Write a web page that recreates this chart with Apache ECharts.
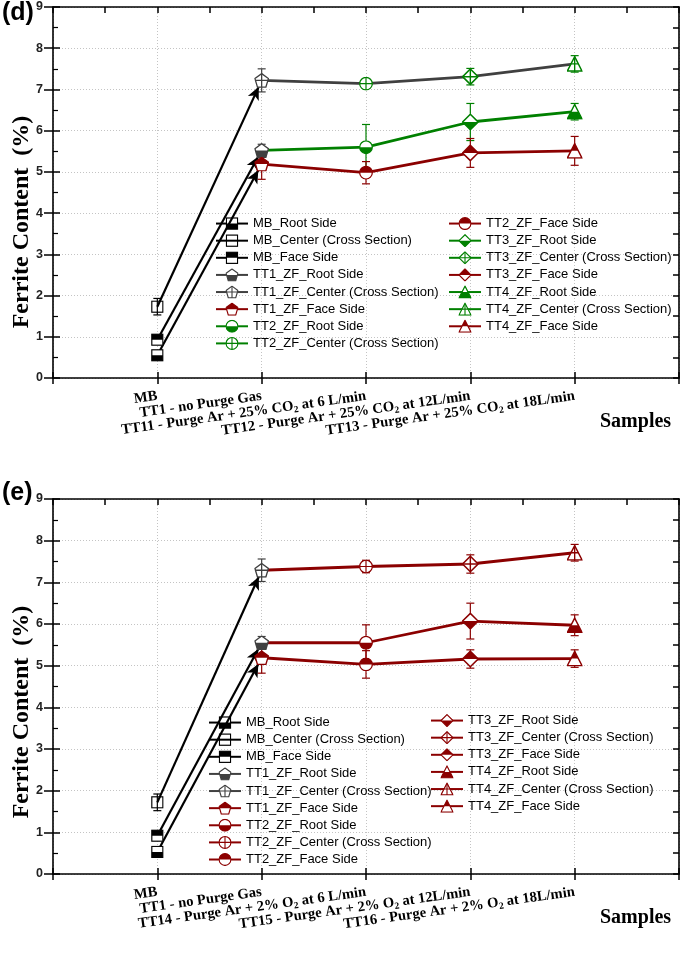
<!DOCTYPE html>
<html><head><meta charset="utf-8">
<script src="https://cdn.jsdelivr.net/npm/echarts@6/dist/echarts.min.js"></script>
<style>html,body{margin:0;padding:0;background:#fff}#c{width:685px;height:954px}</style>
</head><body><div id="c"></div>
<script>
// ---------------- DATA ----------------
const categoriesD = ['MB', 'TT1 - no Purge Gas', 'TT11 - Purge Ar + 25% CO{s|2} at 6 L/min', 'TT12 - Purge Ar + 25% CO{s|2} at 12L/min', 'TT13 - Purge Ar + 25% CO{s|2} at 18L/min'];
const categoriesE = ['MB', 'TT1 - no Purge Gas', 'TT14 - Purge Ar + 2% O{s|2} at 6 L/min', 'TT15 - Purge Ar + 2% O{s|2} at 12L/min', 'TT16 - Purge Ar + 2% O{s|2} at 18L/min'];
const sampleLabels = ['MB', 'TT1_ZF', 'TT2_ZF', 'TT3_ZF', 'TT4_ZF'];
const sideLabels = ['Root Side', 'Center (Cross Section)', 'Face Side'];
const yMin = 0, yMax = 9, yStep = 1;

// panel (d): MB values ordered Root, Center, Face
const mbD = [0.55, 1.73, 0.93];
const mbErrD = [0.10, 0.20, 0.10];
// TT1..TT4 values (at TT1, TT11, TT12, TT13)
const rootD = [5.52, 5.60, 6.21, 6.46];
const rootErrD = [0.15, 0.55, 0.45, 0.20];
const centerD = [7.22, 7.14, 7.31, 7.62];
const centerErrD = [0.28, 0.08, 0.20, 0.20];
const faceD = [5.19, 4.98, 5.46, 5.51];
const faceErrD = [0.37, 0.27, 0.35, 0.35];

// panel (e)
const mbE = [0.53, 1.72, 0.92];
const mbErrE = [0.10, 0.20, 0.10];
const rootE = [5.55, 5.55, 6.07, 5.97];
const rootErrE = [0.15, 0.43, 0.43, 0.25];
const centerE = [7.29, 7.38, 7.44, 7.71];
const centerErrE = [0.27, 0.15, 0.22, 0.20];
const faceE = [5.19, 5.03, 5.16, 5.17];
const faceErrE = [0.37, 0.33, 0.22, 0.21];

// ---------------- STYLE ----------------
const BLACK = '#000000', GRAY = '#404040', GREEN = '#008000', RED = '#8b0000';
const shapes = ['square', 'pentagon', 'circle', 'diamond', 'triangle'];
const symSizes = { square: 13, pentagon: 15, circle: 14, diamond: 17, triangle: 16 };

function svgMarker(shape, mode, color) {
  const geo = {
    square: '<rect x="1.5" y="1.5" width="17" height="17"/>',
    pentagon: '<polygon points="10,1 19,7.6 15.6,19 4.4,19 1,7.6"/>',
    circle: '<circle cx="10" cy="10" r="9"/>',
    diamond: '<polygon points="10,0.9 19.1,10 10,19.1 0.9,10"/>',
    triangle: '<polygon points="10,1 19.2,19 0.8,19"/>'
  }[shape];
  let body = '<defs><clipPath id="s">' + geo + '</clipPath><clipPath id="h"><rect x="-1" y="' + (mode === 'top' ? -1 : 10) + '" width="22" height="11"/></clipPath></defs>';
  if (mode !== 'open') body += '<g fill="#ffffff">' + geo + '</g>';
  if (mode === 'top' || mode === 'bottom') body += '<g clip-path="url(#h)" fill="' + color + '">' + geo + '</g>';
  if (mode === 'cross') body += '<path clip-path="url(#s)" d="M10 0V20M0 10H20" stroke="' + color + '" stroke-width="1.7" fill="none"/>';
  body += '<g fill="none" stroke="' + color + '" stroke-width="1.8">' + geo + '</g>';
  const svg = '<svg xmlns="http://www.w3.org/2000/svg" width="60" height="60" viewBox="0 0 20 20">' + body + '</svg>';
  return 'image://data:image/svg+xml;charset=utf-8,' + encodeURIComponent(svg);
}

const panels = [
  {
    key: 'd', cats: categoriesD, mb: mbD, mbErr: mbErrD,
    vals: [rootD, centerD, faceD], errs: [rootErrD, centerErrD, faceErrD],
    colors: [[BLACK, BLACK, BLACK], [GRAY, GRAY, RED], [GREEN, GREEN, RED], [GREEN, GREEN, RED], [GREEN, GREEN, RED]],
    lineColors: [GREEN, GRAY, RED],
    grid: { left: 53, top: 7, width: 626, height: 371 },
    legendSplit: 8, legend1: { left: 215, top: 217 }, legend2: { left: 448, top: 217 },
    tag: '(d)', tagTop: 1, samplesTop: 412, titleY: 222
  },
  {
    key: 'e', cats: categoriesE, mb: mbE, mbErr: mbErrE,
    vals: [rootE, centerE, faceE], errs: [rootErrE, centerErrE, faceErrE],
    colors: [[BLACK, BLACK, BLACK], [GRAY, GRAY, RED], [RED, RED, RED], [RED, RED, RED], [RED, RED, RED]],
    lineColors: [RED, RED, RED],
    grid: { left: 53, top: 499, width: 626, height: 375 },
    legendSplit: 9, legend1: { left: 208, top: 716 }, legend2: { left: 430, top: 714 },
    tag: '(e)', tagTop: 481, samplesTop: 908, titleY: 712
  }
];

const option = {
  animation: false,
  backgroundColor: '#ffffff',
  grid: [], xAxis: [], yAxis: [], series: [], legend: [], graphic: []
};

const lineAxis = { show: true, onZero: false, lineStyle: { color: '#000', width: 1.6 } };

panels.forEach((p, gi) => {
  option.grid.push(p.grid);
  const axisData = [' ', ...p.cats, '  '];
  const xb = gi * 3, yb = gi * 3;
  option.xAxis.push({
    type: 'category', gridIndex: gi, data: axisData, boundaryGap: false, position: 'bottom',
    axisLine: lineAxis,
    axisTick: { show: true, inside: false, length: 6, interval: 0, lineStyle: { color: '#000', width: 1.5 } },
    axisLabel: {
      interval: 0, rotate: 8, margin: 18, color: '#000', fontFamily: 'Liberation Serif',
      fontWeight: 'bold', fontSize: 14.6, lineHeight: 18,
      rich: { s: { fontSize: 9.5, lineHeight: 9, verticalAlign: 'bottom', fontWeight: 'bold', fontFamily: 'Liberation Serif', color: '#000' } }
    },
    splitLine: { show: true, interval: 0, lineStyle: { color: '#c4c4c4', type: [1, 2], width: 1 } }
  });
  option.xAxis.push({
    type: 'value', gridIndex: gi, min: 0, max: 6, interval: 0.5, position: 'top',
    axisLine: lineAxis, axisTick: { show: true, inside: true, length: 6, lineStyle: { color: '#000', width: 1.5 } },
    axisLabel: { show: false }, splitLine: { show: false }
  });
  option.xAxis.push({
    type: 'value', gridIndex: gi, min: 0, max: 6, interval: 1, position: 'bottom',
    axisLine: { show: false, onZero: false }, axisTick: { show: true, inside: true, length: 6, lineStyle: { color: '#000', width: 1.5 } },
    axisLabel: { show: false }, splitLine: { show: false }
  });
  option.yAxis.push({
    type: 'value', gridIndex: gi, min: yMin, max: yMax, interval: yStep, position: 'left',
    axisLine: lineAxis,
    axisTick: { show: true, inside: false, length: 9, lineStyle: { color: '#000', width: 1.5 } },
    axisLabel: { margin: 10, color: '#222', fontFamily: 'Liberation Sans', fontWeight: 'bold', fontSize: 12.5 },
    splitLine: { show: true, lineStyle: { color: '#c4c4c4', type: [1, 2], width: 1 } }
  });
  option.yAxis.push({
    type: 'value', gridIndex: gi, min: yMin, max: yMax, interval: 0.5, position: 'right',
    axisLine: lineAxis, axisTick: { show: true, inside: true, length: 6, lineStyle: { color: '#000', width: 1.5 } },
    axisLabel: { show: false }, splitLine: { show: false }
  });
  option.yAxis.push({
    type: 'value', gridIndex: gi, min: yMin, max: yMax, interval: yStep, position: 'left',
    axisLine: { show: false, onZero: false },
    axisTick: { show: true, inside: true, length: 7, lineStyle: { color: '#000', width: 1.5 } },
    minorTick: { show: true, splitNumber: 2, length: 5, lineStyle: { color: '#000', width: 1.2 } },
    axisLabel: { show: false }, splitLine: { show: false }
  });

  [0, 1, 2].forEach(s => {
    const ser = {
      type: 'line', name: p.key + '_line' + s, xAxisIndex: xb, yAxisIndex: yb, z: 2, silent: true,
      showSymbol: false, symbol: 'none',
      data: p.vals[s].map((v, i) => [p.cats[i + 1], v]),
      lineStyle: { color: p.lineColors[s], width: 2.8 }
    };
    if (s === 1) {
      ser.markLine = {
        silent: true, animation: false, symbol: ['none', 'arrow'], symbolSize: [9, 13],
        symbolOffset: [[0, 0], [0, 7]],
        label: { show: false }, emphasis: { disabled: true },
        lineStyle: { color: '#000', width: 2.2, type: 'solid' },
        data: [
          [{ coord: [p.cats[0], p.mb[1]] }, { coord: [p.cats[1], p.vals[1][0]] }],
          [{ coord: [p.cats[0], p.mb[2]] }, { coord: [p.cats[1], p.vals[0][0]] }],
          [{ coord: [p.cats[0], p.mb[0]] }, { coord: [p.cats[1], p.vals[2][0]] }]
        ]
      };
    }
    option.series.push(ser);
  });

  const errItems = [];
  const names = [];
  sampleLabels.forEach((smp, k) => {
    sideLabels.forEach((side, s) => {
      const v = k === 0 ? p.mb[s] : p.vals[s][k - 1];
      const e = k === 0 ? p.mbErr[s] : p.errs[s][k - 1];
      const color = p.colors[k][s];
      errItems.push({ value: [k + 1, v, e], itemStyle: { color: color } });
      const shape = shapes[k];
      const mode = (k === 0 && s === 1) ? 'open' : ['bottom', 'cross', 'top'][s];
      const nm = p.key + ':' + smp + '_' + side;
      names.push(nm);
      option.series.push({
        type: 'line', name: nm, xAxisIndex: xb, yAxisIndex: yb, z: 10, silent: true,
        data: [[p.cats[k], v]],
        symbol: svgMarker(shape, mode, color), symbolSize: symSizes[shape], showSymbol: true,
        lineStyle: { color: color, width: 1.5 }, itemStyle: { color: color }
      });
    });
  });
  option.series.push({
    type: 'custom', name: p.key + '_err', xAxisIndex: xb, yAxisIndex: yb, z: 4, silent: true,
    encode: { x: 0, y: 1 }, data: errItems,
    renderItem: (params, api) => {
      const x = api.value(0), v = api.value(1), e = api.value(2);
      const t = api.coord([x, v + e]), b = api.coord([x, v - e]);
      const c = api.visual('color'); const w = 4;
      const st = { stroke: c, lineWidth: 1.2 };
      return { type: 'group', children: [
        { type: 'line', shape: { x1: t[0], y1: t[1], x2: b[0], y2: b[1] }, style: st },
        { type: 'line', shape: { x1: t[0] - w, y1: t[1], x2: t[0] + w, y2: t[1] }, style: st },
        { type: 'line', shape: { x1: b[0] - w, y1: b[1], x2: b[0] + w, y2: b[1] }, style: st }
      ] };
    }
  });

  const legendBase = {
    orient: 'vertical', itemWidth: 32, itemHeight: 16.4, itemGap: 4, padding: 0,
    selectedMode: false,
    textStyle: { fontFamily: 'Liberation Sans', fontSize: 13, color: '#000' },
    formatter: n => n.slice(2)
  };
  option.legend.push(Object.assign({}, legendBase, p.legend1, { data: names.slice(0, p.legendSplit) }));
  option.legend.push(Object.assign({}, legendBase, p.legend2, { data: names.slice(p.legendSplit) }));

  option.graphic.push({
    type: 'text', left: 2, top: p.tagTop, silent: true,
    style: { text: p.tag, fontFamily: 'Liberation Sans', fontWeight: 'bold', fontSize: 25, fill: '#000' }
  });
  option.graphic.push({
    type: 'text', left: 600, top: p.samplesTop, silent: true,
    style: { text: 'Samples', fontFamily: 'Liberation Serif', fontWeight: 'bold', fontSize: 20, fill: '#000' }
  });
  option.graphic.push({
    type: 'text', x: 22, y: p.titleY, rotation: Math.PI / 2, silent: true,
    style: { text: 'Ferrite Content  (%)', fontFamily: 'Liberation Serif', fontWeight: 'bold', fontSize: 24,
             fill: '#000', align: 'center', verticalAlign: 'middle' }
  });
});

const chart = echarts.init(document.getElementById('c'), null, { renderer: 'canvas' });
chart.setOption(option);
</script>
</body></html>
